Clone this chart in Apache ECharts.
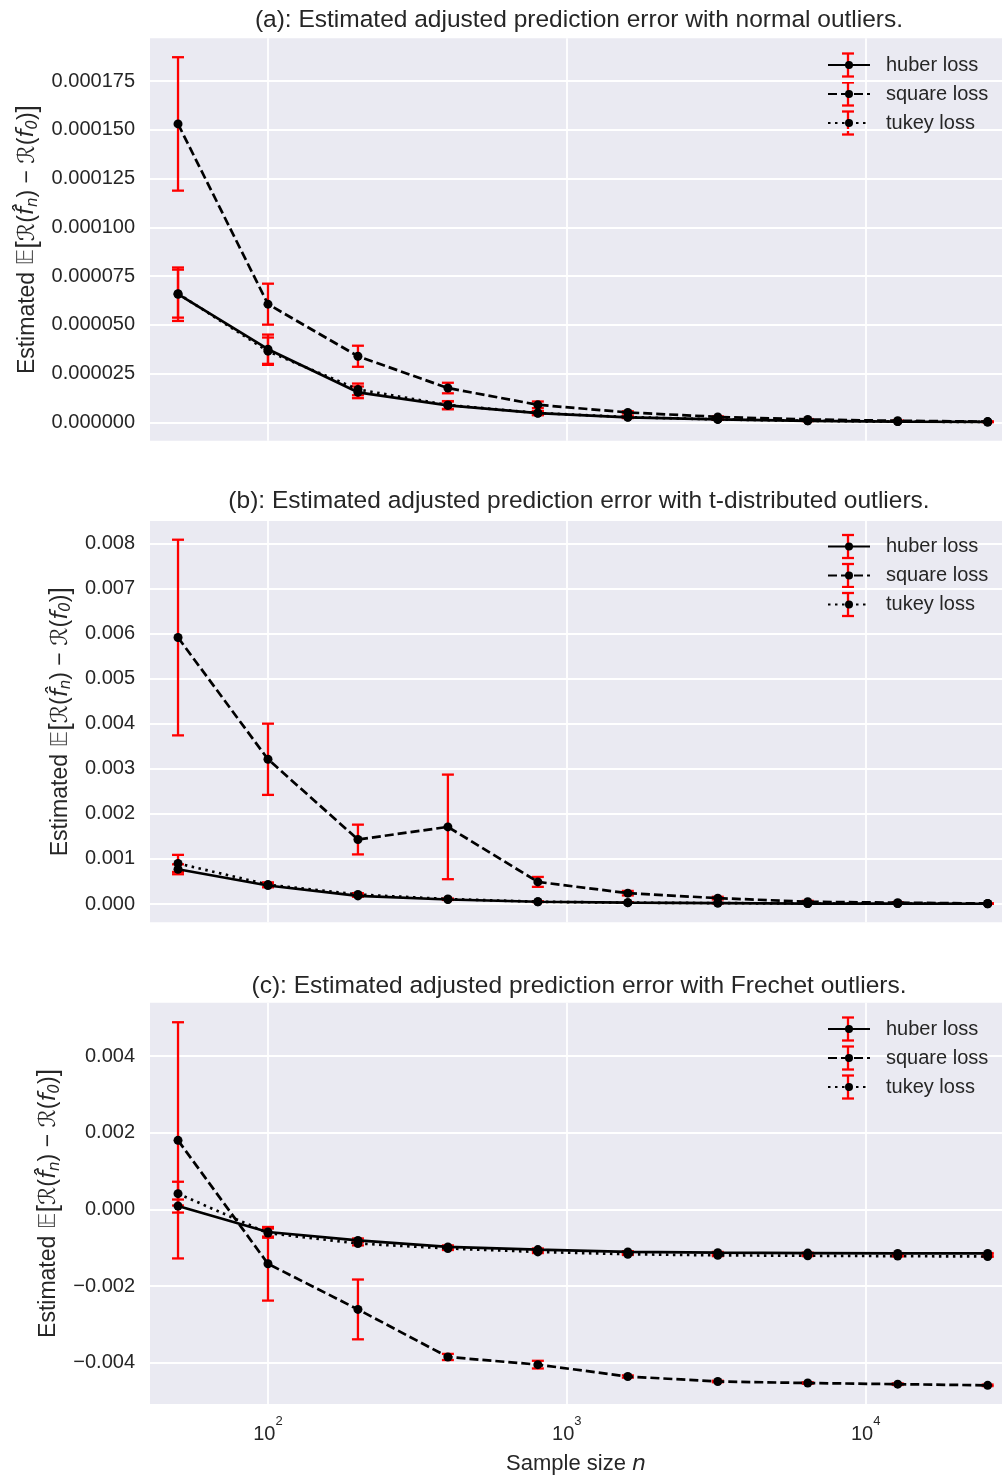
<!DOCTYPE html>
<html><head><meta charset="utf-8">
<script src="https://cdn.jsdelivr.net/npm/echarts@6/dist/echarts.min.js"></script>
<style>html,body{margin:0;padding:0;background:#fff}#c{width:1002px;height:1475px}</style>
</head><body><div id="c"></div>
<script>
// ---------- data ----------
const sampleSizes = [50, 100, 200, 400, 800, 1600, 3200, 6400, 12800, 25600];
const lossNames = ['huber loss', 'square loss', 'tukey loss'];
const panelTitles = [
  '(a): Estimated adjusted prediction error with normal outliers.',
  '(b): Estimated adjusted prediction error with t-distributed outliers.',
  '(c): Estimated adjusted prediction error with Frechet outliers.'
];
// panel (a) normal outliers
const aHuber     = [6.57e-5, 3.75e-5, 1.54e-5, 8.7e-6, 4.7e-6, 2.6e-6, 1.5e-6, 8e-7, 4e-7, 2e-7];
const aHuberErr  = [1.37e-5, 7.5e-6, 3.0e-6, 2.0e-6, 1.0e-6, 4e-7, 2e-7, 1e-7, 5e-8, 3e-8];
const aSquare    = [1.53e-4, 6.06e-5, 3.39e-5, 1.76e-5, 9.0e-6, 5.1e-6, 2.8e-6, 1.5e-6, 8e-7, 4e-7];
const aSquareErr = [3.42e-5, 1.05e-5, 5.4e-6, 2.7e-6, 1.7e-6, 6e-7, 3e-7, 2e-7, 1e-7, 5e-8];
const aTukey     = [6.6e-5, 3.65e-5, 1.69e-5, 8.9e-6, 4.8e-6, 2.7e-6, 1.5e-6, 8e-7, 4e-7, 2e-7];
const aTukeyErr  = [1.23e-5, 7.0e-6, 3.0e-6, 2.0e-6, 1.0e-6, 4e-7, 2e-7, 1e-7, 5e-8, 3e-8];
// panel (b) t-distributed outliers
const bHuber     = [0.00077, 0.00041, 0.00018, 0.00010, 0.00005, 0.00003, 0.00002, 0.00001, 0.00001, 0.000005];
const bHuberErr  = [0.00011, 0.00004, 0.00002, 0.00001, 0.000005, 0.000003, 0.000002, 0.000001, 0.000001, 0.000001];
const bSquare    = [0.00591, 0.00321, 0.00143, 0.00171, 0.00049, 0.00024, 0.00013, 0.00005, 0.00003, 0.00001];
const bSquareErr = [0.00217, 0.00079, 0.00033, 0.00116, 0.00011, 0.00005, 0.00003, 0.00002, 0.00001, 0.000005];
const bTukey     = [0.00090, 0.00043, 0.00021, 0.00011, 0.00005, 0.00003, 0.00002, 0.00001, 0.00001, 0.000005];
const bTukeyErr  = [0.00019, 0.00005, 0.00003, 0.00001, 0.000005, 0.000003, 0.000002, 0.000001, 0.000001, 0.000001];
// panel (c) Frechet outliers
const cHuber     = [0.000086, -0.00059, -0.00081, -0.00098, -0.00105, -0.00111, -0.00113, -0.00114, -0.00115, -0.00115];
const cHuberErr  = [0.00017, 0.00012, 0.00005, 0.00004, 0.00003, 0.00002, 0.00002, 0.00001, 0.00001, 0.00001];
const cSquare    = [0.00180, -0.00142, -0.00261, -0.00385, -0.00405, -0.00436, -0.00449, -0.00453, -0.00456, -0.00459];
const cSquareErr = [0.00308, 0.00096, 0.00078, 0.00008, 0.00010, 0.00003, 0.00002, 0.00002, 0.00002, 0.00002];
const cTukey     = [0.00041, -0.00062, -0.00089, -0.00102, -0.00111, -0.00117, -0.00120, -0.00121, -0.00122, -0.00123];
const cTukeyErr  = [0.00031, 0.00012, 0.00005, 0.00004, 0.00003, 0.00002, 0.00002, 0.00001, 0.00001, 0.00001];
// ticks
const xTicks  = [100, 1000, 10000];
const yTicksA = [0, 0.000025, 0.00005, 0.000075, 0.0001, 0.000125, 0.00015, 0.000175];
const yTicksB = [0, 0.001, 0.002, 0.003, 0.004, 0.005, 0.006, 0.007, 0.008];
const yTicksC = [-0.004, -0.002, 0, 0.002, 0.004];
const yDecimals = [6, 3, 3];

// ---------- layout / style ----------
const FONT = '"Liberation Sans", Arial, "DejaVu Sans", sans-serif';
const TXT = '#262626';
const BG = '#EAEAF2';
const gridTops = [38.3, 521, 1002.7];
const gridHeights = [402.4, 401.3, 401.3];
const yRanges = [[-0.0000094, 0.0001969], [-0.000406, 0.008495], [-0.005077, 0.00539]];
const xRange = [40.29, 28590];
const titleTops = [8, 488.5, 973.5];
const nameGaps = [99, 64, 76];
const legendTops = [55, 536.5, 1019];
const dashTypes = ['solid', [9, 4], [2.5, 4.5]];

const panels = [
  {vals: [aHuber, aSquare, aTukey], errs: [aHuberErr, aSquareErr, aTukeyErr], ticks: yTicksA},
  {vals: [bHuber, bSquare, bTukey], errs: [bHuberErr, bSquareErr, bTukeyErr], ticks: yTicksB},
  {vals: [cHuber, cSquare, cTukey], errs: [cHuberErr, cSquareErr, cTukeyErr], ticks: yTicksC}
];

const yName = 'Estimated {bb|\u{1D53C}}{br|[}\u211B({it|f\u0302}{sub|n}) \u2212 \u211B({it|f}{sub|0}){br|]}';
const nameRich = {
  bb: {fontSize: 23, color: '#555', fontFamily: '"DejaVu Sans", sans-serif'},
  br: {fontSize: 27, color: TXT, fontFamily: FONT},
  it: {fontSize: 23, fontStyle: 'italic', color: TXT, fontFamily: '"DejaVu Sans", sans-serif'},
  sub: {fontSize: 15, fontStyle: 'italic', color: TXT, verticalAlign: 'bottom', lineHeight: 15, fontFamily: '"DejaVu Sans", sans-serif'}
};

const grids = [], xAxes = [], yAxes = [], series = [], titles = [], legends = [], graphics = [];

panels.forEach((p, i) => {
  grids.push({left: 150, right: 0, top: gridTops[i], height: gridHeights[i], show: true,
    backgroundColor: BG, borderWidth: 0, containLabel: false, outerBoundsMode: 'none'});
  xAxes.push({
    type: 'log', logBase: 10, gridIndex: i, min: xRange[0], max: xRange[1],
    axisLine: {show: false}, axisTick: {show: false, customValues: xTicks},
    splitLine: {show: true, lineStyle: {color: '#fff', width: 1.8}},
    axisLabel: {show: i === 2, customValues: xTicks, margin: 10.5,
      formatter: v => '{b|10}{s|' + Math.round(Math.log10(v)) + '}',
      rich: {
        b: {fontSize: 20, lineHeight: 29.5, verticalAlign: 'bottom', color: TXT, fontFamily: FONT},
        s: {fontSize: 13, lineHeight: 13, verticalAlign: 'top', color: TXT, fontFamily: FONT}
      }},
    name: i === 2 ? 'Sample size {it|n}' : '', nameLocation: 'middle', nameGap: 49,
    nameTextStyle: {fontSize: 22, color: TXT, fontFamily: FONT,
      rich: {it: {fontSize: 22, fontStyle: 'italic', color: TXT, fontFamily: '"DejaVu Sans", sans-serif'}}}
  });
  yAxes.push({
    type: 'value', gridIndex: i, min: yRanges[i][0], max: yRanges[i][1],
    axisLine: {show: false}, axisTick: {show: false, customValues: p.ticks},
    splitLine: {show: true, lineStyle: {color: '#fff', width: 1.8}},
    axisLabel: {customValues: p.ticks, margin: 15, fontSize: 20, color: TXT, fontFamily: FONT,
      formatter: v => { const s = Math.abs(v).toFixed(yDecimals[i]); return (v < -1e-12 ? '\u2212' : '') + s; }},
    name: yName, nameLocation: 'middle', nameGap: nameGaps[i], nameRotate: 90,
    nameTextStyle: {fontSize: 23, color: TXT, fontFamily: FONT, rich: nameRich}
  });
  titles.push({text: panelTitles[i], left: 579, top: titleTops[i], textAlign: 'center', padding: 0,
    textStyle: {fontSize: 24.5, fontWeight: 'normal', color: TXT, fontFamily: FONT}});
  legends.push({data: lossNames, orient: 'vertical', left: 827, top: legendTops[i], padding: 0,
    itemWidth: 42, itemHeight: 10, itemGap: 9, selectedMode: false,
    textStyle: {fontSize: 20, lineHeight: 20, color: TXT, fontFamily: FONT, padding: [0, 0, 0, 11]}});
  for (let k = 0; k < 3; k++) {
    const vals = p.vals[k], errs = p.errs[k];
    series.push({
      type: 'custom', xAxisIndex: i, yAxisIndex: i, z: 2, silent: true, animation: false,
      encode: {x: 0, y: 1},
      data: sampleSizes.map((n, j) => [n, vals[j], errs[j]]),
      renderItem: (params, api) => {
        const x = api.value(0), y = api.value(1), e = api.value(2);
        const top = api.coord([x, y + e]), bot = api.coord([x, y - e]);
        const st = {stroke: '#ff0000', lineWidth: 2.3};
        return {type: 'group', children: [
          {type: 'line', shape: {x1: top[0], y1: top[1], x2: bot[0], y2: bot[1]}, style: st},
          {type: 'line', shape: {x1: top[0] - 6, y1: top[1], x2: top[0] + 6, y2: top[1]}, style: st},
          {type: 'line', shape: {x1: bot[0] - 6, y1: bot[1], x2: bot[0] + 6, y2: bot[1]}, style: st}
        ]};
      }
    });
    series.push({
      type: 'line', name: lossNames[k], xAxisIndex: i, yAxisIndex: i, z: 3, animation: false,
      data: sampleSizes.map((n, j) => [n, vals[j]]),
      symbol: 'circle', symbolSize: 9, showAllSymbol: true,
      itemStyle: {color: '#000'},
      lineStyle: {color: '#000', width: 2.7, type: dashTypes[k], cap: 'butt'}
    });
    // red error-bar glyph in legend
    const cy = legendTops[i] + 10 + 29 * k;
    const st = {stroke: '#ff0000', lineWidth: 2.3};
    graphics.push({type: 'group', z: 3, silent: true, children: [
      {type: 'line', shape: {x1: 848, y1: cy - 11.5, x2: 848, y2: cy + 11.5}, style: st},
      {type: 'line', shape: {x1: 842, y1: cy - 11.5, x2: 854, y2: cy - 11.5}, style: st},
      {type: 'line', shape: {x1: 842, y1: cy + 11.5, x2: 854, y2: cy + 11.5}, style: st}
    ]});
  }
});

const chart = echarts.init(document.getElementById('c'), null, {renderer: 'canvas'});
chart.setOption({
  backgroundColor: '#fff',
  animation: false,
  title: titles,
  legend: legends,
  grid: grids,
  xAxis: xAxes,
  yAxis: yAxes,
  series: series,
  graphic: {elements: graphics}
});
</script></body></html>
